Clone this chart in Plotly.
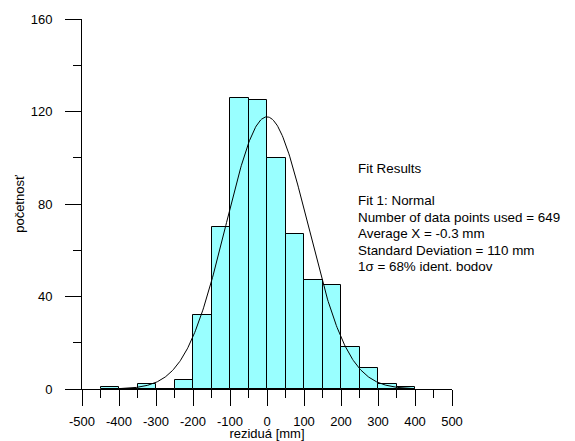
import numpy as np
import plotly.graph_objects as go

# Histogram bins (left edges) and counts
bin_left = [-450, -400, -350, -300, -250, -200, -150, -100, -50, 0, 50, 100, 150, 200, 250, 300, 350]
counts   = [1, 0, 2, 0, 4, 32, 70, 126, 125, 100, 67, 47, 45, 18, 9, 2, 1]
bin_width = 50

# Fit parameters (from annotation)
fit_mean = -0.3
fit_sd = 110.0
n_points = 649

x_ticks = [-500, -400, -300, -200, -100, 0, 100, 200, 300, 400, 500]
x_ticktext = ["-500", "-400", "-300", "-200", "-100", "0", "100", "200", "300", "400", "500"]
y_ticks = [0, 40, 80, 120, 160]
y_ticktext = ["0", "40", "80", "120", "160"]

fit_lines = [
    "Fit 1: Normal",
    "Number of data points used = 649",
    "Average X = -0.3 mm",
    "Standard Deviation = 110 mm",
    "1σ = 68% ident. bodov",
]

centers = [b + bin_width / 2 for b in bin_left]

xs = np.linspace(-400, 400, 400)
ys = n_points * bin_width / (fit_sd * np.sqrt(2 * np.pi)) * np.exp(-0.5 * ((xs - fit_mean) / fit_sd) ** 2)

font = "Liberation Sans, Arial, sans-serif"

# page offset of 8px (default body margin) compensated
OFF = 8
W, H = 575 - OFF, 441 - OFF
L, R, T, B = 82 - OFF, 123, 19 - OFF, 52
pw, ph = W - L - R, H - T - B

fig = go.Figure()
fig.add_trace(go.Bar(
    x=centers, y=counts, width=bin_width,
    marker=dict(color="#99FFFF", line=dict(color="black", width=1)),
    showlegend=False,
))
fig.add_trace(go.Scatter(
    x=xs, y=ys, mode="lines", line=dict(color="black", width=1), showlegend=False,
))

fig.update_layout(
    width=W, height=H,
    margin=dict(l=L, r=R, t=T, b=B),
    paper_bgcolor="white", plot_bgcolor="white",
    font=dict(family=font, size=13, color="black"),
    bargap=0,
)
fig.update_xaxes(
    range=[-500, 500], tickvals=x_ticks, ticktext=x_ticktext,
    ticks="outside", ticklen=16, tickwidth=1,
    tickcolor="black", showline=True, linecolor="black", linewidth=1,
    showgrid=False, zeroline=False, automargin=False,
    minor=dict(ticks="outside", ticklen=8, dtick=50, tick0=0, tickcolor="black", showgrid=False),
    title=dict(text="reziduá [mm]", standoff=5, font=dict(size=13)),
    tickfont=dict(size=13), ticklabelstandoff=4,
)
fig.update_yaxes(
    range=[0, 160], tickvals=y_ticks, ticktext=y_ticktext,
    ticks="outside", ticklen=16, tickwidth=1,
    tickcolor="black", showline=True, linecolor="black", linewidth=1,
    showgrid=False, zeroline=False, automargin=False,
    minor=dict(ticks="outside", ticklen=8, dtick=20, tick0=0, tickcolor="black", showgrid=False),
    title=dict(text="početnosť", standoff=3, font=dict(size=13)),
    tickfont=dict(size=13), ticklabelstandoff=10,
)

tx = (356 - 82) / pw
fig.add_annotation(
    xref="paper", yref="paper", x=tx, y=(389 - 168) / ph,
    xanchor="left", yanchor="middle", showarrow=False, align="left",
    text="Fit Results", font=dict(size=13.4),
)
for i, line in enumerate(fit_lines):
    fig.add_annotation(
        xref="paper", yref="paper", x=tx, y=(389 - (200.5 + 16.6 * i)) / ph,
        xanchor="left", yanchor="middle", showarrow=False, align="left",
        text=line, font=dict(size=13.4),
    )

fig.write_html("out.html")
